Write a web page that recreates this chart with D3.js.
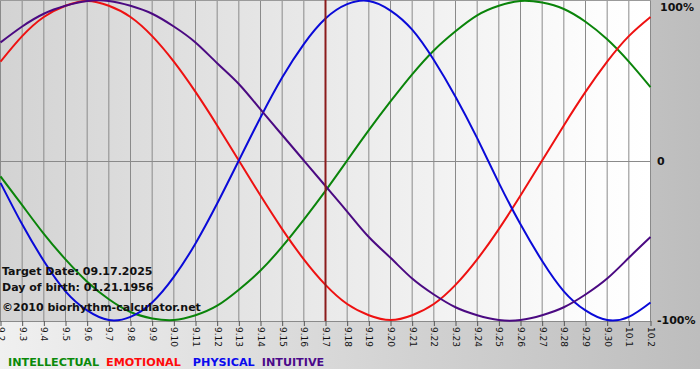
<!DOCTYPE html>
<html>
<head>
<meta charset="utf-8">
<script src="https://cdn.jsdelivr.net/npm/d3@7"></script>
<style>
	body { margin: 0; background: #fff; }
	svg { display: block; font-family: "DejaVu Sans", Verdana, sans-serif; }
</style>
</head>
<body>
<svg id="chart" width="700" height="380"></svg>
<script>
// @ Data (one value per day)
const days = ["9.2", "9.3", "9.4", "9.5", "9.6", "9.7", "9.8", "9.9", "9.10", "9.11",
	"9.12", "9.13", "9.14", "9.15", "9.16", "9.17", "9.18", "9.19", "9.20", "9.21",
	"9.22", "9.23", "9.24", "9.25", "9.26", "9.27", "9.28", "9.29", "9.30", "10.1", "10.2"];
const physical = [-0.14, -0.40, -0.63, -0.82, -0.94, -1.00, -0.98, -0.89, -0.73, -0.52,
	-0.27, 0.00, 0.27, 0.52, 0.73, 0.89, 0.98, 1.00, 0.94, 0.82,
	0.63, 0.40, 0.14, -0.14, -0.40, -0.63, -0.82, -0.94, -1.00, -0.98, -0.89];
const emotional = [0.62, 0.78, 0.90, 0.97, 1.00, 0.97, 0.90, 0.78, 0.62, 0.43,
	0.22, 0.00, -0.22, -0.43, -0.62, -0.78, -0.90, -0.97, -1.00, -0.97,
	-0.90, -0.78, -0.62, -0.43, -0.22, 0.00, 0.22, 0.43, 0.62, 0.78, 0.90];
const intellectual = [-0.10, -0.28, -0.46, -0.62, -0.76, -0.87, -0.95, -0.99, -1.00, -0.97,
	-0.91, -0.81, -0.69, -0.54, -0.37, -0.19, 0.00, 0.19, 0.37, 0.54,
	0.69, 0.81, 0.91, 0.97, 1.00, 0.99, 0.95, 0.87, 0.76, 0.62, 0.46];
const intuitive = [0.74, 0.84, 0.92, 0.97, 1.00, 1.00, 0.97, 0.92, 0.84, 0.74,
	0.61, 0.48, 0.32, 0.16, 0.00, -0.16, -0.32, -0.48, -0.61, -0.74,
	-0.84, -0.92, -0.97, -1.00, -1.00, -0.97, -0.92, -0.84, -0.74, -0.61, -0.48];
const targetDay = "9.17";
const yTicks = [1, 0, -1];
const yTickLabels = ["100%", "0", "-100%"];
const seriesNames = ["INTELLECTUAL", "EMOTIONAL", "PHYSICAL", "INTUITIVE"];
const infoLines = ["Target Date: 09.17.2025", "Day of birth: 01.21.1956", "\u00a92010 biorhythm-calculator.net"];

// @ Layout
const width = 700;
const plotW = 651;
const plotH = 321;
const lineColors = { INTELLECTUAL: "#0a840a", EMOTIONAL: "#ee1111", PHYSICAL: "#0a0ad8", INTUITIVE: "#4b0a82" };
const legendColors = { INTELLECTUAL: "#0a8a0a", EMOTIONAL: "#ff0a0a", PHYSICAL: "#0a0aee", INTUITIVE: "#4b0a8a" };
const legendGaps = { INTELLECTUAL: 7, EMOTIONAL: 12, PHYSICAL: 7, INTUITIVE: 0 };
const seriesValues = { INTELLECTUAL: intellectual, EMOTIONAL: emotional, PHYSICAL: physical, INTUITIVE: intuitive };

const svg = d3.select("#chart");

// gradients
const defs = svg.append("defs");
const bgGrad = defs.append("linearGradient").attr("id", "bgGrad");
bgGrad.append("stop").attr("offset", "0%").attr("stop-color", "#f0f0f0");
bgGrad.append("stop").attr("offset", "100%").attr("stop-color", "#bdbdbd");
const plotGrad = defs.append("linearGradient").attr("id", "plotGrad");
plotGrad.append("stop").attr("offset", "0%").attr("stop-color", "#d3d3d3");
plotGrad.append("stop").attr("offset", "92%").attr("stop-color", "#fdfdfd");
plotGrad.append("stop").attr("offset", "100%").attr("stop-color", "#ffffff");

svg.append("rect")
	.attr("width", width)
	.attr("height", 369)
	.attr("fill", "url(#bgGrad)");
svg.append("rect")
	.attr("width", plotW)
	.attr("height", plotH)
	.attr("fill", "url(#plotGrad)");

// @ Scales
const x = d3.scalePoint().domain(days).range([0.5, plotW - 0.5]);
const y = d3.scaleLinear().domain([-1, 1]).range([plotH - 1, 1]);

// grid
svg.append("g")
	.selectAll("line")
	.data(days)
	.enter()
	.append("line")
	.attr("x1", (d) => x(d))
	.attr("x2", (d) => x(d))
	.attr("y1", 0)
	.attr("y2", plotH)
	.attr("stroke", "#8a8a8a")
	.attr("stroke-width", 1);

svg.append("line")
	.attr("x1", 0)
	.attr("x2", plotW)
	.attr("y1", Math.round(y(0)) + 0.5)
	.attr("y2", Math.round(y(0)) + 0.5)
	.attr("stroke", "#8a8a8a");
svg.append("line")
	.attr("x1", 0)
	.attr("x2", plotW)
	.attr("y1", 0.5)
	.attr("y2", 0.5)
	.attr("stroke", "#9a9a9a");
svg.append("line")
	.attr("x1", 0)
	.attr("x2", plotW)
	.attr("y1", plotH + 0.5)
	.attr("y2", plotH + 0.5)
	.attr("stroke", "#8a8a8a");

// x axis
const xAxis = svg.append("g")
	.attr("transform", `translate(0, ${plotH})`)
	.call(d3.axisBottom(x).tickSize(5).tickPadding(3));
xAxis.select(".domain").remove();
xAxis.selectAll(".tick line").attr("stroke", "#555");
xAxis.selectAll(".tick text")
	.attr("transform", "rotate(90)")
	.attr("x", 6)
	.attr("y", 0)
	.attr("dy", "0.35em")
	.attr("text-anchor", "start")
	.attr("fill", "#111")
	.style("font-size", "9px")
	.style("font-family", "'DejaVu Sans', Verdana, sans-serif");

// @ Curves
const line = d3.line()
	.x((d, i) => x(days[i]))
	.y((d) => y(d))
	.curve(d3.curveNatural);

svg.append("g")
	.selectAll("path")
	.data(seriesNames)
	.enter()
	.append("path")
	.attr("d", (d) => line(seriesValues[d]))
	.attr("fill", "none")
	.attr("stroke", (d) => lineColors[d])
	.attr("stroke-width", 2);

// target date line
svg.append("line")
	.attr("x1", x(targetDay))
	.attr("x2", x(targetDay))
	.attr("y1", 0)
	.attr("y2", plotH)
	.attr("stroke", "#8b1c1c")
	.attr("stroke-width", 2);

// right labels
svg.append("g")
	.selectAll("text")
	.data(yTicks)
	.enter()
	.append("text")
	.text((d, i) => yTickLabels[i])
	.attr("x", (d) => (d === 1 ? 660 : 657))
	.attr("y", (d) => (d === 1 ? 11 : y(d)))
	.attr("dy", (d) => (d === 1 ? 0 : "0.38em"))
	.attr("font-weight", "bold")
	.style("font-size", "11px")
	.attr("fill", "#111");

// info text
svg.append("g")
	.selectAll("text")
	.data(infoLines)
	.enter()
	.append("text")
	.text((d) => d)
	.attr("x", 2)
	.attr("y", (d, i) => [275, 291, 311][i])
	.attr("font-weight", "bold")
	.style("font-size", "11px")
	.attr("fill", "#111");

// legend
let lx = 8;
const legend = svg.append("g");
seriesNames.forEach((name) => {
	const t = legend.append("text")
		.text(name)
		.attr("x", lx)
		.attr("y", 366)
		.attr("font-weight", "bold")
		.style("font-size", "11.2px")
		.attr("fill", legendColors[name]);
	lx += t.node().getComputedTextLength() + legendGaps[name];
});
</script>
</body>
</html>
